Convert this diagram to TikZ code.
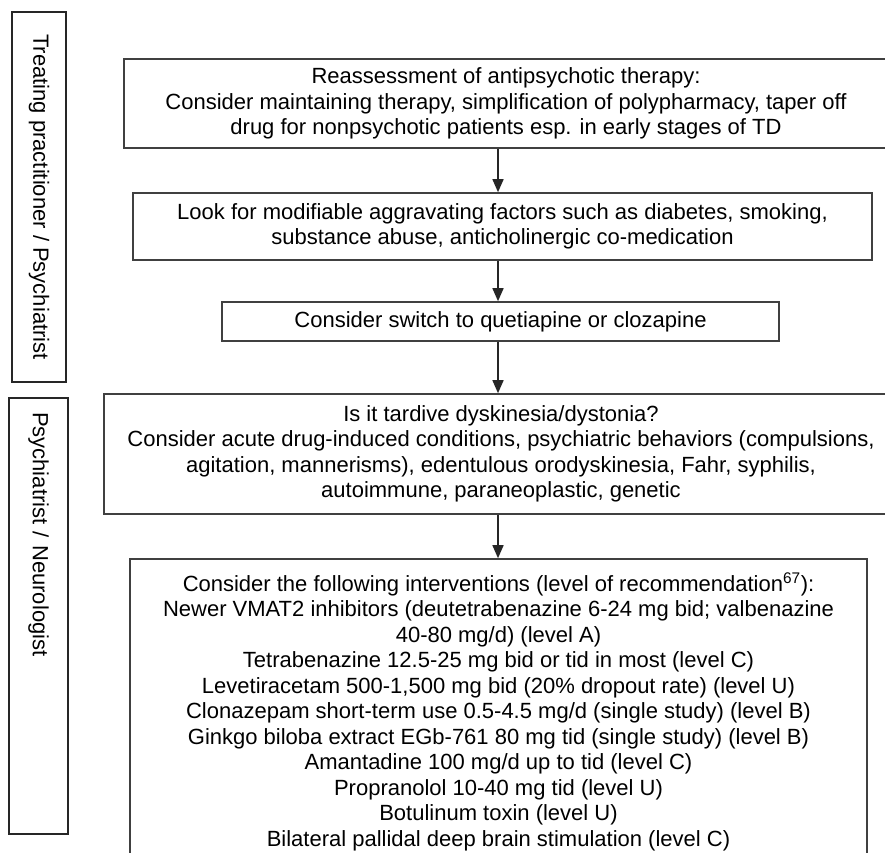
\documentclass[tikz,border=0pt]{standalone}
\usepackage{fontspec}
\setmainfont{Liberation Sans}
\usepackage{tikz}
\usepackage{xcolor}
\usetikzlibrary{arrows.meta, positioning, calc}

\begin{document}
\begin{tikzpicture}[x=1pt, y=-1pt,
  font=\fontsize{22}{25.5}\selectfont,
  stepbox/.style={rectangle, draw=black!75, line width=1.6pt, align=center, inner sep=0pt},
  lanebox/.style={rectangle, draw=black!85, line width=1.2pt, rotate=-90, inner sep=0pt},
  flow/.style={-{Triangle[length=13pt,width=11pt]}, draw=black!85, line width=1.5pt}]
\useasboundingbox (0,0) rectangle (885,852);

% Who is in charge
\node[lanebox, minimum width=370pt, minimum height=54pt] (lane1) at (39,197) {Treating practitioner / Psychiatrist};
\node[lanebox, minimum width=436pt, minimum height=59pt, inner xsep=14pt, text width=408pt, align=left] (lane2) at (38.5,616) {Psychiatrist / Neurologist};

% Flow of steps
\coordinate (spine) at (498,0);
\node[stepbox, minimum width=764pt, minimum height=89pt] (reassess) at (506,103.5) {Reassessment of antipsychotic therapy:\\Consider maintaining therapy, simplification of polypharmacy, taper off\\drug for nonpsychotic patients esp. in early stages of TD};
\node[stepbox, minimum width=739pt, minimum height=67pt] (factors) at (502.5,226.5) {Look for modifiable aggravating factors such as diabetes, smoking,\\substance abuse, anticholinergic co-medication};
\node[stepbox, minimum width=557pt, minimum height=39pt] (switch) at (500.5,321.5) {Consider switch to quetiapine or clozapine};
\node[stepbox, minimum width=794pt, minimum height=120pt] (diagnose) at (501,454) {Is it tardive dyskinesia/dystonia?\\Consider acute drug-induced conditions, psychiatric behaviors (compulsions,\\agitation, mannerisms), edentulous orodyskinesia, Fahr, syphilis,\\autoimmune, paraneoplastic, genetic};
\node[stepbox, minimum width=737pt, minimum height=306pt] (treat) at (498.5,712) {Consider the following interventions (level of recommendation\textsuperscript{67}):\\Newer VMAT2 inhibitors (deutetrabenazine 6-24 mg bid; valbenazine\\40-80 mg/d) (level A)\\Tetrabenazine 12.5-25 mg bid or tid in most (level C)\\Levetiracetam 500-1,500 mg bid (20\% dropout rate) (level U)\\Clonazepam short-term use 0.5-4.5 mg/d (single study) (level B)\\Ginkgo biloba extract EGb-761 80 mg tid (single study) (level B)\\Amantadine 100 mg/d up to tid (level C)\\Propranolol 10-40 mg tid (level U)\\Botulinum toxin (level U)\\Bilateral pallidal deep brain stimulation (level C)};

\draw[flow] (reassess.south -| spine) -- (factors.north -| spine);
\draw[flow] (factors.south -| spine) -- (switch.north -| spine);
\draw[flow] (switch.south -| spine) -- (diagnose.north -| spine);
\draw[flow] (diagnose.south -| spine) -- (treat.north -| spine);
\end{tikzpicture}
\end{document}
